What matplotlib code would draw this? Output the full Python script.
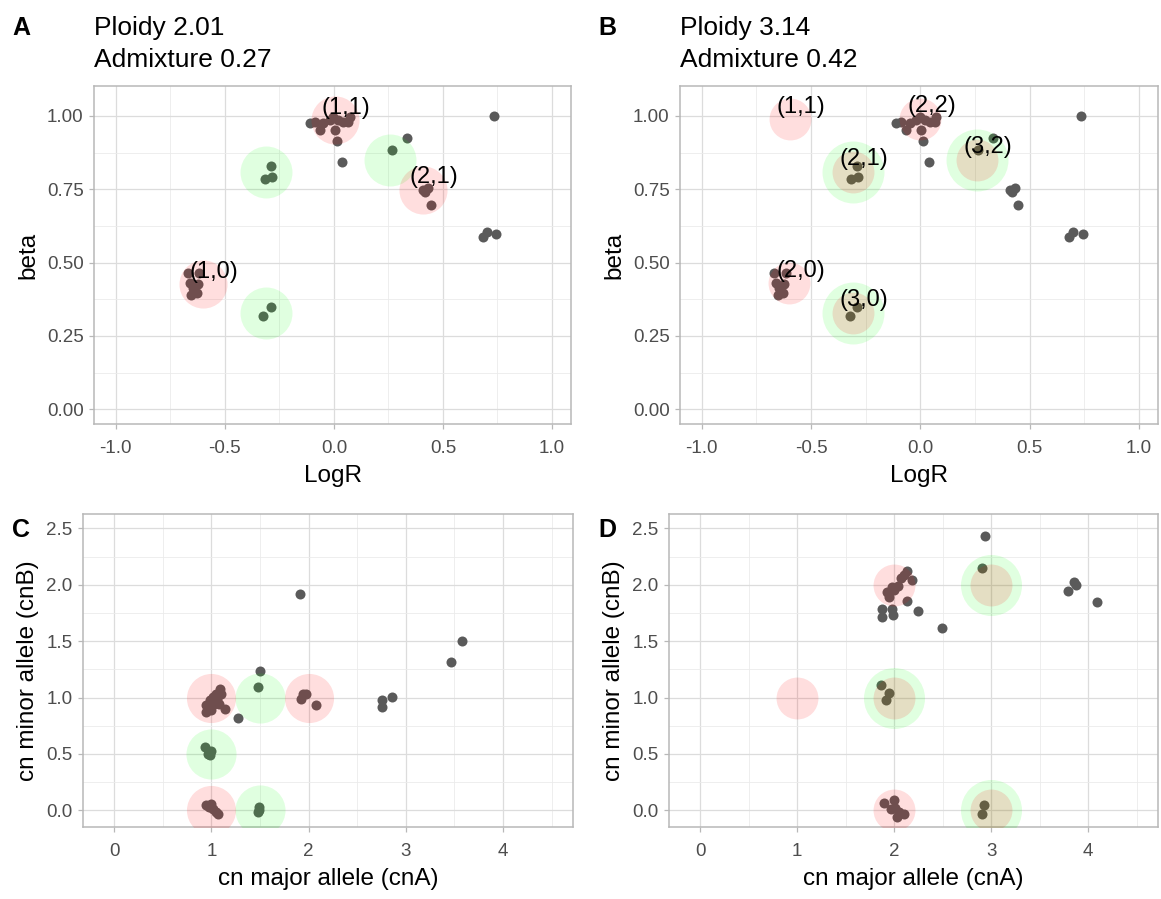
import numpy as np
import matplotlib.pyplot as plt
from matplotlib.ticker import MultipleLocator, FormatStrFormatter

plt.rcParams['font.family'] = ['Liberation Sans', 'DejaVu Sans']
plt.rcParams['axes.unicode_minus'] = False

# segment estimates: LogR and BAF (beta), shared by the two top panels
logr = [-0.110, -0.087, -0.064, -0.049, -0.018, 0.004, 0.012, 0.043, 0.066, 0.073,
        -0.003, 0.020, 0.038, 0.333, 0.265, 0.734,
        -0.289, -0.317, -0.284,
        0.410, 0.433, 0.418, 0.447,
        0.682, 0.700, 0.743,
        -0.668, -0.660, -0.653, -0.630, -0.624, -0.617, -0.645,
        -0.289, -0.323]
beta = [0.975, 0.981, 0.952, 0.975, 0.986, 0.952, 0.913, 0.981, 0.981, 0.998,
        0.998, 0.986, 0.844, 0.924, 0.884, 1.000,
        0.830, 0.784, 0.793,
        0.748, 0.753, 0.742, 0.697,
        0.586, 0.605, 0.598,
        0.464, 0.430, 0.390, 0.398, 0.426, 0.464, 0.414,
        0.350, 0.319]

# copy-number fits (cnA, cnB) for ploidy 2.01
cna_c = [1.915, 3.578, 3.465, 1.497, 1.476, 1.943, 1.977, 1.926, 2.080, 2.858, 2.755, 2.755, 1.270,
         1.085, 1.050, 1.017, 0.983, 0.950, 0.950, 1.000, 1.030, 1.080, 1.140, 1.100, 1.060, 0.966,
         0.938, 1.000, 0.983, 0.970,
         0.950, 1.000, 1.020, 1.050, 1.070, 0.980,
         1.487, 1.480, 1.488]
cnb_c = [1.915, 1.498, 1.318, 1.232, 1.090, 1.028, 1.034, 0.990, 0.937, 1.005, 0.981, 0.913, 0.818,
         1.079, 1.035, 1.005, 0.976, 0.931, 0.872, 0.887, 0.946, 0.946, 0.896, 1.035, 0.990, 0.902,
         0.561, 0.526, 0.488, 0.500,
         0.044, 0.056, 0.013, -0.015, -0.030, 0.030,
         0.030, -0.015, 0.006]

# copy-number fits (cnA, cnB) for ploidy 3.14
cna_d = [2.940, 2.908, 3.853, 3.870, 3.795, 4.093, 2.489, 2.248, 2.134,
         2.134, 2.100, 2.186, 1.980, 1.930, 1.950, 2.000, 2.040, 2.070,
         1.876, 1.876, 1.979, 1.986,
         1.866, 1.950, 1.920,
         1.895, 1.997, 1.963, 2.050, 2.100, 2.030, 2.014,
         2.925, 2.908]
cnb_d = [2.430, 2.150, 2.024, 1.994, 1.944, 1.847, 1.616, 1.764, 1.856,
         2.118, 2.083, 2.044, 1.980, 1.935, 1.890, 1.950, 1.990, 2.060,
         1.788, 1.714, 1.788, 1.730,
         1.114, 1.040, 0.975,
         0.065, 0.089, 0.015, -0.015, -0.030, -0.060, 0.024,
         0.050, -0.030]

# expected clonal states (red) and subclonal states (green)
a_red_x = [0.004, -0.600, 0.407]
a_red_y = [0.986, 0.427, 0.748]
a_red_lab = ['(1,1)', '(1,0)', '(2,1)']
a_green_x = [-0.311, 0.257, -0.311]
a_green_y = [0.810, 0.850, 0.330]

b_red_x = [-0.599, 0.000, -0.310, 0.260, -0.600, -0.310]
b_red_y = [0.989, 0.990, 0.810, 0.850, 0.430, 0.330]
b_red_lab = ['(1,1)', '(2,2)', '(2,1)', '(3,2)', '(2,0)', '(3,0)']
b_green_x = [-0.310, 0.260, -0.310]
b_green_y = [0.810, 0.850, 0.330]

c_red_x = [1, 2, 1]
c_red_y = [1, 1, 0]
c_green_x = [1.5, 1.0, 1.5]
c_green_y = [1.0, 0.5, 0.0]

d_red_x = [1, 2, 2, 3, 2, 3]
d_red_y = [1, 2, 1, 2, 0, 0]
d_green_x = [2, 3, 3]
d_green_y = [1, 2, 0]

W, H = 1161, 899
fig = plt.figure(figsize=(W / 100, H / 100), dpi=100)


def px_axes(left, top, right, bottom):
    return fig.add_axes([left / W, 1 - bottom / H, (right - left) / W, (bottom - top) / H])


ax_a = px_axes(94, 86, 571, 424)
ax_b = px_axes(680, 86, 1158, 424)
ax_c = px_axes(83, 514, 573, 827)
ax_d = px_axes(669, 514, 1158, 827)

pt_col = '#5a5a5a'
red = (1.0, 0.0, 0.0, 0.13)
green = (0.0, 1.0, 0.0, 0.12)


def style(ax):
    ax.set_facecolor('white')
    for s in ax.spines.values():
        s.set_color('#b8b8b8')
        s.set_linewidth(1.1)
    ax.grid(which='major', color='#dcdcdc', linewidth=0.9, zorder=0)
    ax.grid(which='minor', color='#ebebeb', linewidth=0.6, zorder=0)
    ax.set_axisbelow(True)
    ax.tick_params(which='major', length=3.5, width=0.9, color='#b8b8b8',
                   labelsize=13.5, labelcolor='#4d4d4d', pad=4)
    ax.tick_params(axis='x', which='major', pad=8)
    ax.tick_params(which='minor', length=0)


def draw(ax, x, y, rx, ry, gx, gy, s_red, s_green, labels=None):
    ax.scatter(x, y, s=52, color=pt_col, linewidths=0, zorder=2)
    ax.scatter(gx, gy, s=s_green, color=green, linewidths=0, zorder=3)
    ax.scatter(rx, ry, s=s_red, color=red, linewidths=0, zorder=4)
    if labels:
        for lx, ly, lab in zip(rx, ry, labels):
            ax.annotate(lab, (lx, ly), xytext=(8, 9), textcoords='offset points',
                        ha='center', va='center', fontsize=17, color='black', zorder=5)


draw(ax_a, logr, beta, a_red_x, a_red_y, a_green_x, a_green_y, 1200, 1400, a_red_lab)
draw(ax_b, logr, beta, b_red_x, b_red_y, b_green_x, b_green_y, 910, 1990, b_red_lab)
draw(ax_c, cna_c, cnb_c, c_red_x, c_red_y, c_green_x, c_green_y, 1250, 1300)
draw(ax_d, cna_d, cnb_d, d_red_x, d_red_y, d_green_x, d_green_y, 910, 1930)

for ax in (ax_a, ax_b):
    style(ax)
    ax.set_xlim(-1.1, 1.087)
    ax.set_ylim(-0.05, 1.102)
    ax.xaxis.set_major_locator(MultipleLocator(0.5))
    ax.xaxis.set_minor_locator(MultipleLocator(0.25))
    ax.yaxis.set_major_locator(MultipleLocator(0.25))
    ax.yaxis.set_minor_locator(MultipleLocator(0.125))
    ax.xaxis.set_major_formatter(FormatStrFormatter('%.1f'))
    ax.yaxis.set_major_formatter(FormatStrFormatter('%.2f'))
    ax.set_xlabel('LogR', fontsize=17.5, labelpad=6)
    ax.set_ylabel('beta', fontsize=17.5, labelpad=5)

for ax in (ax_c, ax_d):
    style(ax)
    ax.set_xlim(-0.32, 4.72)
    ax.set_ylim(-0.148, 2.627)
    ax.xaxis.set_major_locator(MultipleLocator(1))
    ax.xaxis.set_minor_locator(MultipleLocator(0.5))
    ax.yaxis.set_major_locator(MultipleLocator(0.5))
    ax.yaxis.set_minor_locator(MultipleLocator(0.25))
    ax.xaxis.set_major_formatter(FormatStrFormatter('%d'))
    ax.yaxis.set_major_formatter(FormatStrFormatter('%.1f'))
    ax.set_xlabel('cn major allele (cnA)', fontsize=17.5, labelpad=6)
    ax.set_ylabel('cn minor allele (cnB)', fontsize=17.5, labelpad=5)

# panel letters and titles
for lx, ly, letter in [(12, 35, 'A'), (598, 35, 'B'), (12, 537, 'C'), (598, 537, 'D')]:
    fig.text(lx / W, 1 - ly / H, letter, fontsize=18, fontweight='bold', va='baseline')

for tx, lines in [(94, ['Ploidy 2.01', 'Admixture 0.27']), (680, ['Ploidy 3.14', 'Admixture 0.42'])]:
    fig.text(tx / W, 1 - 35 / H, lines[0], fontsize=19, va='baseline')
    fig.text(tx / W, 1 - 67 / H, lines[1], fontsize=19, va='baseline')

fig.savefig('out.png', dpi=100, facecolor='white')
